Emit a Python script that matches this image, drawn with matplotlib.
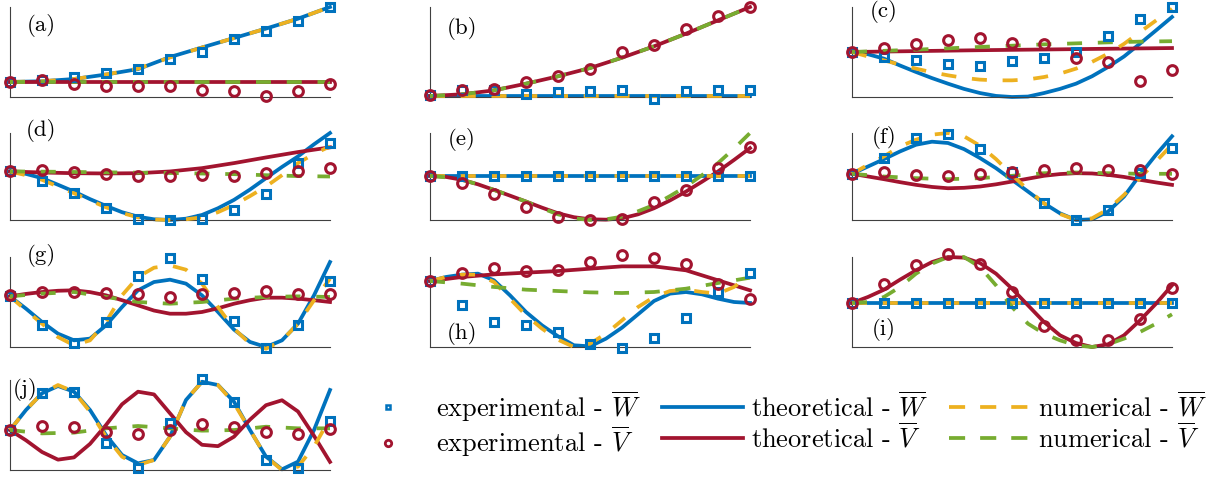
import matplotlib.pyplot as plt
from matplotlib.lines import Line2D

plt.rcParams['mathtext.fontset'] = 'cm'

blue = '#0072BD'
red = '#A2142F'
yellow = '#EDB120'
green = '#77AC30'

x11 = [0, 1, 2, 3, 4, 5, 6, 7, 8, 9, 10]
x21 = [0, 0.5, 1, 1.5, 2, 2.5, 3, 3.5, 4, 4.5, 5, 5.5, 6, 6.5, 7, 7.5, 8, 8.5, 9, 9.5, 10]

# values are read as fractions of each panel's height
# (a)
a_exp_W = [0.167, 0.185, 0.222, 0.267, 0.315, 0.426, 0.5, 0.64, 0.73, 0.85, 1.0]
a_exp_V = [0.167, 0.185, 0.14, 0.12, 0.12, 0.12, 0.08, 0.067, 0.007, 0.063, 0.148]
a_th_W = [0.167, 0.175, 0.2, 0.25, 0.31, 0.444, 0.55, 0.655, 0.76, 0.87, 1.0]
a_th_V = [0.167, 0.167, 0.167, 0.167, 0.167, 0.167, 0.167, 0.167, 0.167, 0.167, 0.167]
a_num_W = [0.167, 0.175, 0.2, 0.25, 0.315, 0.44, 0.55, 0.655, 0.76, 0.87, 1.0]
a_num_V = [0.167, 0.167, 0.167, 0.167, 0.167, 0.167, 0.167, 0.167, 0.167, 0.167, 0.167]
# (b)
b_exp_W = [0.019, 0.074, 0.074, 0.03, 0.056, 0.067, 0.08, -0.019, 0.067, 0.08, 0.08]
b_exp_V = [0.019, 0.074, 0.093, 0.167, 0.23, 0.315, 0.5, 0.574, 0.76, 0.9, 1.0]
b_th_W = [0.011, 0.011, 0.011, 0.011, 0.011, 0.011, 0.011, 0.011, 0.011, 0.011, 0.011]
b_th_V = [0.011, 0.03, 0.074, 0.148, 0.23, 0.322, 0.437, 0.563, 0.704, 0.852, 1.0]
b_num_W = [0.011, 0.011, 0.011, 0.011, 0.011, 0.011, 0.011, 0.011, 0.011, 0.011, 0.011]
b_num_V = [0.011, 0.03, 0.074, 0.148, 0.23, 0.322, 0.437, 0.563, 0.704, 0.852, 1.0]
# (c)
c_exp_W = [0.5, 0.444, 0.407, 0.37, 0.34, 0.4, 0.437, 0.5, 0.674, 0.87, 1.0]
c_exp_V = [0.5, 0.548, 0.585, 0.63, 0.66, 0.6, 0.593, 0.437, 0.389, 0.178, 0.304]
c_th_W = [0.5, 0.475, 0.426, 0.35, 0.278, 0.21, 0.148, 0.09, 0.044, 0.012, 0.0,
          0.005, 0.044, 0.09, 0.148, 0.23, 0.333, 0.45, 0.593, 0.74, 0.889]
c_th_V = [0.5, 0.505, 0.51, 0.515, 0.52, 0.524, 0.528, 0.532, 0.536, 0.54, 0.544]
c_num_W = [0.5, 0.45, 0.407, 0.36, 0.315, 0.275, 0.241, 0.212, 0.193, 0.185, 0.185,
           0.195, 0.222, 0.26, 0.315, 0.39, 0.481, 0.59, 0.722, 0.85, 0.98]
c_num_V = [0.5, 0.513, 0.526, 0.541, 0.556, 0.57, 0.585, 0.596, 0.607, 0.615, 0.62]
# (d)
d_exp_W = [0.558, 0.454, 0.308, 0.135, 0.008, 0.0, 0.012, 0.115, 0.3, 0.654, 0.885]
d_exp_V = [0.558, 0.569, 0.546, 0.531, 0.508, 0.5, 0.519, 0.508, 0.538, 0.558, 0.596]
d_th_W = [0.558, 0.53, 0.481, 0.405, 0.327, 0.24, 0.162, 0.09, 0.038, 0.008, 0.0,
          0.015, 0.058, 0.135, 0.231, 0.35, 0.481, 0.61, 0.731, 0.87, 1.0]
d_th_V = [0.558, 0.546, 0.538, 0.535, 0.538, 0.558, 0.596, 0.654, 0.719, 0.781, 0.835]
d_num_W = [0.558, 0.515, 0.462, 0.385, 0.308, 0.225, 0.146, 0.08, 0.031, 0.006, 0.0,
           0.008, 0.031, 0.09, 0.173, 0.275, 0.385, 0.515, 0.654, 0.76, 0.846]
d_num_V = [0.558, 0.556, 0.552, 0.548, 0.544, 0.54, 0.534, 0.527, 0.515, 0.505, 0.5]
# (e)
e_exp_W = [0.508, 0.508, 0.508, 0.508, 0.508, 0.508, 0.508, 0.508, 0.508, 0.508, 0.508]
e_exp_V = [0.508, 0.423, 0.3, 0.154, 0.031, 0.0, 0.008, 0.212, 0.346, 0.596, 0.838]
e_th_W = [0.508, 0.508, 0.508, 0.508, 0.508, 0.508, 0.508, 0.508, 0.508, 0.508, 0.508]
e_th_V = [0.508, 0.495, 0.462, 0.41, 0.346, 0.28, 0.212, 0.142, 0.077, 0.032, 0.008,
          0.004, 0.019, 0.065, 0.135, 0.225, 0.327, 0.44, 0.558, 0.69, 0.827]
e_num_W = [0.508, 0.508, 0.508, 0.508, 0.508, 0.508, 0.508, 0.508, 0.508, 0.508, 0.508]
e_num_V = [0.508, 0.49, 0.462, 0.41, 0.346, 0.28, 0.212, 0.135, 0.065, 0.02, 0.0,
           0.008, 0.038, 0.1, 0.173, 0.275, 0.385, 0.515, 0.654, 0.82, 1.0]
# (f)
f_exp_W = [0.531, 0.712, 0.942, 0.992, 0.815, 0.546, 0.192, 0.0, 0.115, 0.538, 0.827]
f_exp_V = [0.531, 0.55, 0.519, 0.5, 0.531, 0.55, 0.577, 0.596, 0.577, 0.569, 0.531]
f_th_W = [0.531, 0.615, 0.7, 0.788, 0.865, 0.9, 0.885, 0.815, 0.712, 0.596, 0.462,
          0.327, 0.192, 0.077, 0.0, 0.008, 0.096, 0.269, 0.519, 0.75, 0.962]
f_th_V = [0.531, 0.5, 0.469, 0.435, 0.404, 0.38, 0.365, 0.37, 0.385, 0.41, 0.442,
          0.475, 0.508, 0.528, 0.538, 0.535, 0.519, 0.495, 0.462, 0.432, 0.404]
f_num_W = [0.531, 0.635, 0.731, 0.846, 0.923, 0.981, 1.0, 0.962, 0.854, 0.7, 0.519,
           0.346, 0.192, 0.069, 0.0, 0.019, 0.123, 0.288, 0.481, 0.673, 0.865]
f_num_V = [0.531, 0.5, 0.481, 0.469, 0.481, 0.508, 0.538, 0.546, 0.538, 0.531, 0.531]
# (g)
g_exp_W = [0.563, 0.241, 0.044, 0.278, 0.785, 0.989, 0.76, 0.289, -0.007, 0.241, 0.733]
g_exp_V = [0.574, 0.611, 0.611, 0.6, 0.593, 0.556, 0.585, 0.6, 0.622, 0.593, 0.585]
g_th_W = [0.563, 0.426, 0.278, 0.148, 0.074, 0.093, 0.241, 0.444, 0.63, 0.722, 0.748,
          0.704, 0.574, 0.389, 0.193, 0.056, 0.0, 0.074, 0.259, 0.574, 0.944]
g_th_V = [0.563, 0.59, 0.611, 0.625, 0.63, 0.61, 0.574, 0.52, 0.463, 0.405, 0.37,
          0.37, 0.389, 0.43, 0.481, 0.52, 0.548, 0.548, 0.537, 0.52, 0.5]
g_num_W = [0.563, 0.407, 0.259, 0.111, 0.019, 0.074, 0.278, 0.574, 0.778, 0.881, 0.907,
           0.859, 0.704, 0.444, 0.204, 0.037, -0.019, 0.074, 0.259, 0.519, 0.759]
g_num_V = [0.563, 0.593, 0.611, 0.556, 0.5, 0.481, 0.5, 0.537, 0.556, 0.563, 0.556]
# (h)
h_exp_W = [0.733, 0.463, 0.278, 0.241, 0.167, 0.037, -0.007, 0.104, 0.326, 0.611, 0.822]
h_exp_V = [0.733, 0.822, 0.881, 0.844, 0.859, 0.944, 1.019, 0.993, 0.919, 0.704, 0.537]
h_th_W = [0.733, 0.778, 0.804, 0.815, 0.741, 0.574, 0.389, 0.241, 0.119, 0.019, 0.007,
          0.093, 0.215, 0.363, 0.511, 0.593, 0.611, 0.585, 0.537, 0.5, 0.489]
h_th_V = [0.733, 0.778, 0.807, 0.826, 0.844, 0.87, 0.896, 0.896, 0.852, 0.741, 0.63]
h_num_W = [0.733, 0.778, 0.804, 0.804, 0.722, 0.537, 0.352, 0.204, 0.081, 0.0, 0.037,
           0.148, 0.296, 0.444, 0.556, 0.622, 0.637, 0.611, 0.593, 0.667, 0.796]
h_num_V = [0.733, 0.704, 0.667, 0.637, 0.622, 0.607, 0.6, 0.611, 0.648, 0.711, 0.77]
# (i)
i_exp_W = [0.489, 0.489, 0.489, 0.489, 0.489, 0.489, 0.489, 0.489, 0.489, 0.489, 0.489]
i_exp_V = [0.489, 0.704, 0.907, 1.03, 0.926, 0.611, 0.23, 0.081, 0.074, 0.315, 0.659]
i_th_W = [0.489, 0.489, 0.489, 0.489, 0.489, 0.489, 0.489, 0.489, 0.489, 0.489, 0.489]
i_th_V = [0.489, 0.556, 0.637, 0.748, 0.852, 0.944, 1.0, 0.993, 0.933, 0.815, 0.648,
          0.463, 0.278, 0.13, 0.044, 0.0, 0.03, 0.13, 0.296, 0.481, 0.685]
i_num_W = [0.489, 0.489, 0.489, 0.489, 0.489, 0.489, 0.489, 0.489, 0.489, 0.489, 0.489]
i_num_V = [0.489, 0.5, 0.556, 0.667, 0.815, 0.926, 1.0, 1.0, 0.889, 0.685, 0.444,
           0.259, 0.148, 0.074, 0.019, 0.0, 0.03, 0.093, 0.167, 0.259, 0.363]
# (j)
j_exp_W = [0.444, 0.852, 0.87, 0.304, 0.019, 0.519, 1.007, 0.759, 0.111, 0.019, 0.548]
j_exp_V = [0.444, 0.489, 0.481, 0.426, 0.4, 0.444, 0.511, 0.481, 0.426, 0.4, 0.452]
j_th_W = [0.444, 0.667, 0.852, 0.933, 0.87, 0.667, 0.389, 0.167, 0.074, 0.111, 0.37,
          0.778, 0.981, 0.944, 0.759, 0.444, 0.148, 0.007, 0.093, 0.444, 0.889]
j_th_V = [0.444, 0.33, 0.2, 0.115, 0.14, 0.29, 0.5, 0.73, 0.87, 0.84, 0.63,
          0.42, 0.28, 0.265, 0.37, 0.56, 0.72, 0.775, 0.65, 0.38, 0.09]
j_num_W = [0.444, 0.667, 0.852, 0.944, 0.87, 0.648, 0.37, 0.148, 0.056, 0.111, 0.37,
           0.778, 0.981, 0.944, 0.741, 0.444, 0.148, 0.0, 0.037, 0.26, 0.574]
j_num_V = [0.444, 0.407, 0.415, 0.463, 0.489, 0.463, 0.437, 0.444, 0.481, 0.463, 0.463]

panel_labels = ['(a)', '(b)', '(c)', '(d)', '(e)', '(f)', '(g)', '(h)', '(i)', '(j)']
panels = [
    (a_exp_W, a_exp_V, a_th_W, a_th_V, a_num_W, a_num_V),
    (b_exp_W, b_exp_V, b_th_W, b_th_V, b_num_W, b_num_V),
    (c_exp_W, c_exp_V, c_th_W, c_th_V, c_num_W, c_num_V),
    (d_exp_W, d_exp_V, d_th_W, d_th_V, d_num_W, d_num_V),
    (e_exp_W, e_exp_V, e_th_W, e_th_V, e_num_W, e_num_V),
    (f_exp_W, f_exp_V, f_th_W, f_th_V, f_num_W, f_num_V),
    (g_exp_W, g_exp_V, g_th_W, g_th_V, g_num_W, g_num_V),
    (h_exp_W, h_exp_V, h_th_W, h_th_V, h_num_W, h_num_V),
    (i_exp_W, i_exp_V, i_th_W, i_th_V, i_num_W, i_num_V),
    (j_exp_W, j_exp_V, j_th_W, j_th_V, j_num_W, j_num_V),
]

# layout in pixels of the 1226x478 figure
W, H = 1226, 478
col_left = [10, 430, 852]
ax_w = 320
rows = [(7, 97), (133, 220), (257, 347), (380, 470)]
label_pos = [(0.097, 0.79), (0.1, 0.76), (0.1, 0.945), (0.097, 1.03), (0.1, 0.92),
             (0.1, 0.95), (0.097, 1.02), (0.1, 0.155), (0.1, 0.19), (0.047, 0.89)]

lw = 2.7
dash = (4.0, 4.2)
sq = dict(marker='s', ms=5.6, mew=2.2, mfc='none', ls='none', mec=blue, clip_on=False)
ci = dict(marker='o', ms=7.0, mew=2.2, mfc='none', ls='none', mec=red, clip_on=False)

fig = plt.figure(figsize=(W / 100, H / 100), dpi=100)

for k, (eW, eV, tW, tV, nW, nV) in enumerate(panels):
    r, c = divmod(k, 3)
    top, bot = rows[r]
    ax = fig.add_axes([col_left[c] / W, 1 - bot / H, ax_w / W, (bot - top) / H])
    xs = lambda v: x11 if len(v) == 11 else x21
    ax.plot(xs(tW), tW, color=blue, lw=lw, clip_on=False, zorder=2)
    ax.plot(xs(tV), tV, color=red, lw=lw, clip_on=False, zorder=2)
    ax.plot(xs(nW), nW, color=yellow, lw=lw, ls=(0, dash), clip_on=False, zorder=3)
    ax.plot(xs(nV), nV, color=green, lw=lw, ls=(0, dash), clip_on=False, zorder=3)
    ax.plot(x11, eW, zorder=4, **sq)
    ax.plot(x11, eV, zorder=5, **ci)
    ax.set_xlim(0, 10)
    ax.set_ylim(0, 1)
    ax.set_xticks([])
    ax.set_yticks([])
    for s in ['top', 'right']:
        ax.spines[s].set_visible(False)
    for s in ['left', 'bottom']:
        ax.spines[s].set_color('#404040')
        ax.spines[s].set_linewidth(0.8)
    ax.text(label_pos[k][0], label_pos[k][1], panel_labels[k], transform=ax.transAxes,
            ha='center', va='center', fontsize=16.5, family='cmr10', zorder=6)

handles = [
    Line2D([], [], marker='s', ms=3.4, mew=1.8, mfc='none', mec=blue, ls='none'),
    Line2D([], [], marker='o', ms=4.6, mew=2.0, mfc='none', mec=red, ls='none'),
    Line2D([], [], color=blue, lw=lw),
    Line2D([], [], color=red, lw=lw),
    Line2D([], [], color=yellow, lw=lw, ls=(0, (4.3, 4.0))),
    Line2D([], [], color=green, lw=lw, ls=(0, (4.3, 4.0))),
]
labels = [r'experimental - $\overline{W}$',
          r'experimental - $\overline{V}$',
          r'theoretical - $\overline{W}$',
          r'theoretical - $\overline{V}$',
          r'numerical - $\overline{W}$',
          r'numerical - $\overline{V}$']
fig.legend(handles, labels, ncol=3, loc='upper left', bbox_to_anchor=(348 / W, 1 - 389 / H),
           frameon=False, prop={'family': 'cmr10', 'size': 19}, handlelength=3.05,
           handletextpad=0.3, columnspacing=0.8, labelspacing=0.05, borderpad=0,
           borderaxespad=0)

fig.savefig('out.png', dpi=100)
